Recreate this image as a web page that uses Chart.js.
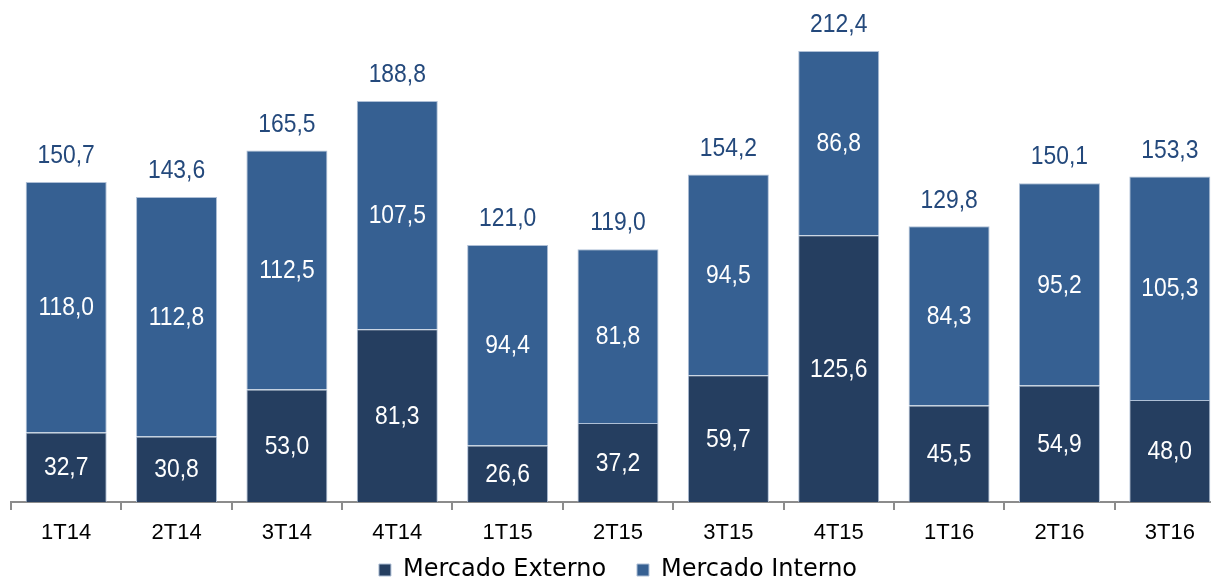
<!DOCTYPE html>
<html>
<head>
<meta charset="utf-8">
<script src="https://cdn.jsdelivr.net/npm/chart.js@4.4.1/dist/chart.umd.min.js"></script>
<style>
  html, body { margin: 0; padding: 0; background: #fff; overflow: hidden; }
  #wrap { width: 1240px; height: 582px; position: relative; }
</style>
</head>
<body>
<div id="wrap"><canvas id="chart"></canvas></div>
<script>

// quarters on the x axis
const quarters = ['1T14', '2T14', '3T14', '4T14', '1T15', '2T15', '3T15', '4T15', '1T16', '2T16', '3T16'];

// values
const mercadoExterno = [32.7, 30.8, 53.0, 81.3, 26.6, 37.2, 59.7, 125.6, 45.5, 54.9, 48.0];
const mercadoInterno = [118.0, 112.8, 112.5, 107.5, 94.4, 81.8, 94.5, 86.8, 84.3, 95.2, 105.3];
const totals = [150.7, 143.6, 165.5, 188.8, 121.0, 119.0, 154.2, 212.4, 129.8, 150.1, 153.3];

const numFont = '"Liberation Sans", Arial, sans-serif';

function fmt(v){
  return v.toFixed(1).replace('.', ',');
}

// text a bit narrower than normal, like in the original picture
function narrowText(ctx, text, x, y){
  ctx.save();
  ctx.translate(x, y);
  ctx.scale(0.88, 1);
  ctx.fillText(text, 0, 0);
  ctx.restore();
}

// draws the numbers inside each segment and the totals on top
const valueLabels = {
  id: 'valueLabels',
  afterDatasetsDraw(chart){
    const ctx = chart.ctx;
    ctx.save();
    ctx.textAlign = 'center';
    ctx.textBaseline = 'middle';
    ctx.font = '26px ' + numFont;

    chart.data.datasets.forEach((ds, i) => {
      const meta = chart.getDatasetMeta(i);
      meta.data.forEach((bar, j) => {
        ctx.fillStyle = '#ffffff';
        narrowText(ctx, fmt(ds.data[j]), bar.x, (bar.y + bar.base) / 2 + 1);
      });
    });

    // totals above the top segment
    const topMeta = chart.getDatasetMeta(1);
    topMeta.data.forEach((bar, j) => {
      ctx.fillStyle = '#24497c';
      narrowText(ctx, fmt(totals[j]), bar.x, bar.y - 26);
    });
    ctx.restore();
  }
};

let chart = new Chart(document.getElementById('chart'), {
  type: 'bar',
  data: {
    labels: quarters,
    datasets: [
      {
        label: 'Mercado Externo',
        data: mercadoExterno,
        backgroundColor: '#253e60',
        borderColor: '#aebfd6',
        borderWidth: 1,
        categoryPercentage: 1.0,
        barPercentage: 0.734
      },
      {
        label: 'Mercado Interno',
        data: mercadoInterno,
        backgroundColor: '#366092',
        borderColor: '#aebfd6',
        borderWidth: 1,
        categoryPercentage: 1.0,
        barPercentage: 0.734
      }
    ]
  },
  options: {
    responsive: true,
    maintainAspectRatio: false,
    animation: false,
    layout: {
      padding: { left: 11, right: 15, top: 0, bottom: -10 }
    },
    scales: {
      x: {
        stacked: true,
        grid: {
          offset: true,
          drawOnChartArea: false,
          tickLength: 8,
          color: '#8c8c8c',
          lineWidth: 2
        },
        border: { color: '#8c8c8c', width: 2 },
        ticks: {
          color: '#000',
          font: { family: numFont, size: 22 },
          padding: 10
        },
        afterFit(scale){ scale.height = 48; }
      },
      y: {
        stacked: true,
        display: false,
        min: 0,
        max: 236.4
      }
    },
    plugins: {
      legend: {
        position: 'bottom',
        labels: {
          color: '#000',
          font: { family: '"DejaVu Sans", Verdana, sans-serif', size: 24 },
          boxWidth: 12,
          boxHeight: 12,
          padding: 8,
          // a little more room between the two entries
          generateLabels(chart){
            const items = Chart.defaults.plugins.legend.labels.generateLabels(chart);
            items[0].text = items[0].text + '   ';
            return items;
          }
        }
      },
      tooltip: { enabled: false }
    }
  },
  plugins: [valueLabels]
});
</script>
</body>
</html>
